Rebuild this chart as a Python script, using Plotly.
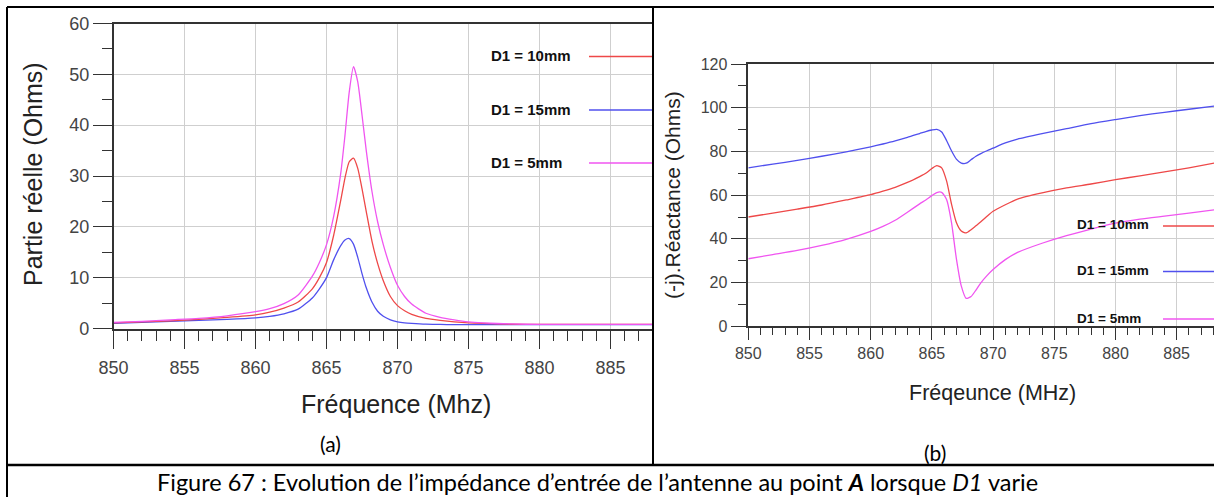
import plotly.graph_objects as go

W, H = 1214, 497

# ---- (a) partie réelle ----
freq_a = [850, 852, 854, 856, 858, 860, 861, 862, 863, 864, 864.5, 865, 865.5, 866, 866.3,
          866.6, 866.9, 867.2, 867.5, 867.8, 868.2, 868.6, 869, 869.5, 870, 870.5, 871, 872,
          873, 874, 875, 876, 878, 880, 884, 888.2]
re_5mm = [1.2, 1.4, 1.7, 2.0, 2.5, 3.3, 3.9, 4.9, 6.6, 10.3, 13.0, 16.5, 22.0, 30.5, 38.0,
          46.5, 51.5, 48.5, 42.0, 35.0, 27.0, 21.0, 16.5, 12.0, 8.5, 6.3, 4.8, 3.0,
          2.2, 1.7, 1.3, 1.1, 0.9, 0.8, 0.8, 0.8]
re_10mm = [1.1, 1.3, 1.5, 1.8, 2.2, 2.7, 3.2, 4.0, 5.2, 7.8, 10.0, 13.0, 18.3, 25.2, 29.6,
           32.8, 33.5, 31.5, 27.5, 23.0, 17.2, 12.8, 9.4, 6.3, 4.5, 3.5, 2.8, 2.0,
           1.6, 1.3, 1.1, 1.0, 0.85, 0.8, 0.8, 0.8]
re_15mm = [1.0, 1.2, 1.4, 1.6, 1.8, 2.1, 2.4, 2.9, 3.8, 6.0, 7.8, 10.0, 13.5, 16.3, 17.4,
           17.7, 16.6, 14.0, 10.8, 8.0, 5.2, 3.4, 2.4, 1.7, 1.3, 1.1, 1.0, 0.85,
           0.8, 0.75, 0.75, 0.75, 0.75, 0.75, 0.75, 0.75]

# ---- (b) réactance ----
freq_b = [850, 852, 854, 856, 858, 860, 861, 862, 863, 864, 864.5, 865, 865.4, 865.8, 866.2,
          866.6, 867.0, 867.4, 867.8, 868.2, 868.6, 869, 869.5, 870, 871, 872, 874, 876, 878,
          880, 882, 884, 886, 888.2]
x_15mm = [72.5, 74.2, 75.9, 77.8, 79.8, 82.1, 83.4, 84.8, 86.4, 88.2, 89.1, 89.8, 90.1, 88.9, 85.0,
          80.3, 76.5, 74.7, 74.6, 76.2, 77.8, 79.0, 80.3, 81.5, 83.9, 85.6, 88.1, 90.4, 92.7,
          94.6, 96.4, 97.9, 99.3, 100.8]
x_10mm = [50.0, 51.8, 53.6, 55.5, 57.8, 60.2, 61.8, 63.6, 65.8, 68.5, 70.0, 72.2, 73.5, 72.5, 66.5,
          56.0, 47.5, 43.6, 42.7, 44.2, 46.0, 47.8, 50.3, 52.6, 55.6, 58.2, 61.0, 63.3, 65.1,
          67.1, 68.8, 70.6, 72.5, 74.8]
x_5mm = [30.9, 32.8, 34.7, 37.0, 39.8, 43.4, 45.7, 48.5, 52.2, 56.0, 57.8, 59.8, 61.2, 61.3, 58.0,
         47.5, 31.0, 18.5, 12.8, 13.6, 16.6, 19.9, 23.2, 26.0, 30.5, 33.8, 38.0, 41.5, 44.5,
         47.2, 49.0, 50.4, 51.8, 53.4]

labels = ["D1 = 10mm", "D1 = 15mm", "D1 = 5mm"]
RED, BLUE, MAG = "#ee4848", "#5050ee", "#f055f0"


def px(x):
    return x / W


def py(y):
    return 1 - y / H


fig = go.Figure()
for y, c in [(re_15mm, BLUE), (re_10mm, RED), (re_5mm, MAG)]:
    fig.add_trace(go.Scatter(x=freq_a, y=y, mode="lines", line=dict(color=c, width=1.3, shape="spline", smoothing=0.6),
                             xaxis="x", yaxis="y", showlegend=False, hoverinfo="skip"))
for y, c in [(x_15mm, BLUE), (x_10mm, RED), (x_5mm, MAG)]:
    fig.add_trace(go.Scatter(x=freq_b, y=y, mode="lines", line=dict(color=c, width=1.3, shape="spline", smoothing=0.6),
                             xaxis="x2", yaxis="y2", showlegend=False, hoverinfo="skip"))

grid = "#cfcfcf"
axcol = "#333333"
tickfont_a = dict(family="Liberation Sans, Arial", size=18, color="#444444")
tickfont_b = dict(family="Liberation Sans, Arial", size=16, color="#444444")

xa = dict(range=[850, 888.0], dtick=5, tick0=850, showline=True, linecolor=axcol, linewidth=1.5, mirror=True,
          ticks="outside", ticklen=19, tickcolor=axcol, showgrid=True, gridcolor=grid, zeroline=False,
          automargin=False,
          minor=dict(dtick=1, ticks="outside", ticklen=11, tickcolor=axcol, showgrid=False))
ya = dict(range=[0, 60], dtick=10, showline=True, linecolor=axcol, linewidth=1.5,
          ticks="outside", ticklen=19, tickcolor=axcol, showgrid=True, gridcolor=grid, zeroline=False,
          automargin=False,
          minor=dict(dtick=5, ticks="outside", ticklen=10, tickcolor=axcol, showgrid=False))

fig.update_layout(
    width=W, height=H, autosize=False, margin=dict(l=0, r=0, t=0, b=0, pad=0),
    paper_bgcolor="white", plot_bgcolor="white",
    xaxis=dict(xa, domain=[px(113.6), px(653)], anchor="y", tickfont=tickfont_a, ticklabelstandoff=3),
    yaxis=dict(ya, domain=[py(328.5), py(23.5)], anchor="x", tickfont=tickfont_a),
    xaxis2=dict(xa, range=[850, 888.05], domain=[px(748.3), 1.0], anchor="y2", tickfont=tickfont_b,
                ticklen=12, minor=dict(dtick=1, ticks="outside", ticklen=7, tickcolor=axcol, showgrid=False)),
    yaxis2=dict(ya, range=[0, 120], dtick=20, domain=[py(326.3), py(64)], anchor="x2", tickfont=tickfont_b,
                ticklen=16, minor=dict(dtick=10, ticks="outside", ticklen=9, tickcolor=axcol, showgrid=False)),
)

ann = []
ann.append(dict(text="Partie réelle (Ohms)", x=px(33), y=py(174), textangle=-90,
                font=dict(family="Liberation Sans, Arial", size=25, color="#222")))
ann.append(dict(text="Fréquence (Mhz)", x=px(396), y=py(404),
                font=dict(family="Liberation Sans, Arial", size=25, color="#222")))
ann.append(dict(text="(-j).Réactance (Ohms)", x=px(672), y=py(195), textangle=-90,
                font=dict(family="Liberation Sans, Arial", size=21, color="#222")))
ann.append(dict(text="Fréqeunce (MHz)", x=px(992), y=py(393),
                font=dict(family="Liberation Sans, Arial", size=21.5, color="#222")))
ann.append(dict(text="(a)", x=px(330), y=py(443), font=dict(family="Lato", size=21, color="black")))
ann.append(dict(text="(b)", x=px(935), y=py(452), font=dict(family="Lato", size=21, color="black")))
ann.append(dict(text="Figure 67 : Evolution de l’impédance d’entrée de l’antenne au point <b><i>A</i></b> lorsque <i>D1</i> varie",
                x=px(597), y=py(482), font=dict(family="Lato", size=23.5, color="black")))

shapes = []
# legend (a)
for lab, c, ly in zip(labels, [RED, BLUE, MAG], [56.5, 110, 163]):
    ann.append(dict(text="<b>" + lab + "</b>", x=px(489), y=py(ly - 1), xanchor="left",
                    font=dict(family="Liberation Sans, Arial", size=15, color="#111"), yanchor="middle"))
    shapes.append(dict(type="line", xref="paper", yref="paper", x0=px(589), x1=px(653), y0=py(ly), y1=py(ly),
                       line=dict(color=c, width=1.3)))
# legend (b)
for lab, c, ly in zip(labels, [RED, BLUE, MAG], [226, 271.5, 319]):
    ann.append(dict(text="<b>" + lab + "</b>", x=px(1075), y=py(ly - 1), xanchor="left",
                    font=dict(family="Liberation Sans, Arial", size=13.5, color="#111"), yanchor="middle"))
    shapes.append(dict(type="line", xref="paper", yref="paper", x0=px(1163), x1=px(1214), y0=py(ly), y1=py(ly),
                       line=dict(color=c, width=1.3)))

for a in ann:
    a.update(xref="paper", yref="paper", showarrow=False)
    a.setdefault("xanchor", "center")
    a.setdefault("yanchor", "middle")
fig.update_layout(annotations=ann)

# table borders
bl = dict(color="black", width=2)
shapes += [
    dict(type="line", xref="paper", yref="paper", x0=px(7), x1=1, y0=py(7), y1=py(7), line=bl),
    dict(type="line", xref="paper", yref="paper", x0=px(7), x1=px(7), y0=py(7), y1=0, line=bl),
    dict(type="line", xref="paper", yref="paper", x0=px(653), x1=px(653), y0=py(7), y1=py(465), line=bl),
    dict(type="line", xref="paper", yref="paper", x0=px(7), x1=1, y0=py(465), y1=py(465), line=dict(color="black", width=2.5)),
]
for s in shapes:
    s["layer"] = "above"
fig.update_layout(shapes=shapes)

fig.write_html("out.html", config={"displayModeBar": False},
               post_script="document.body.style.margin='0px';")
